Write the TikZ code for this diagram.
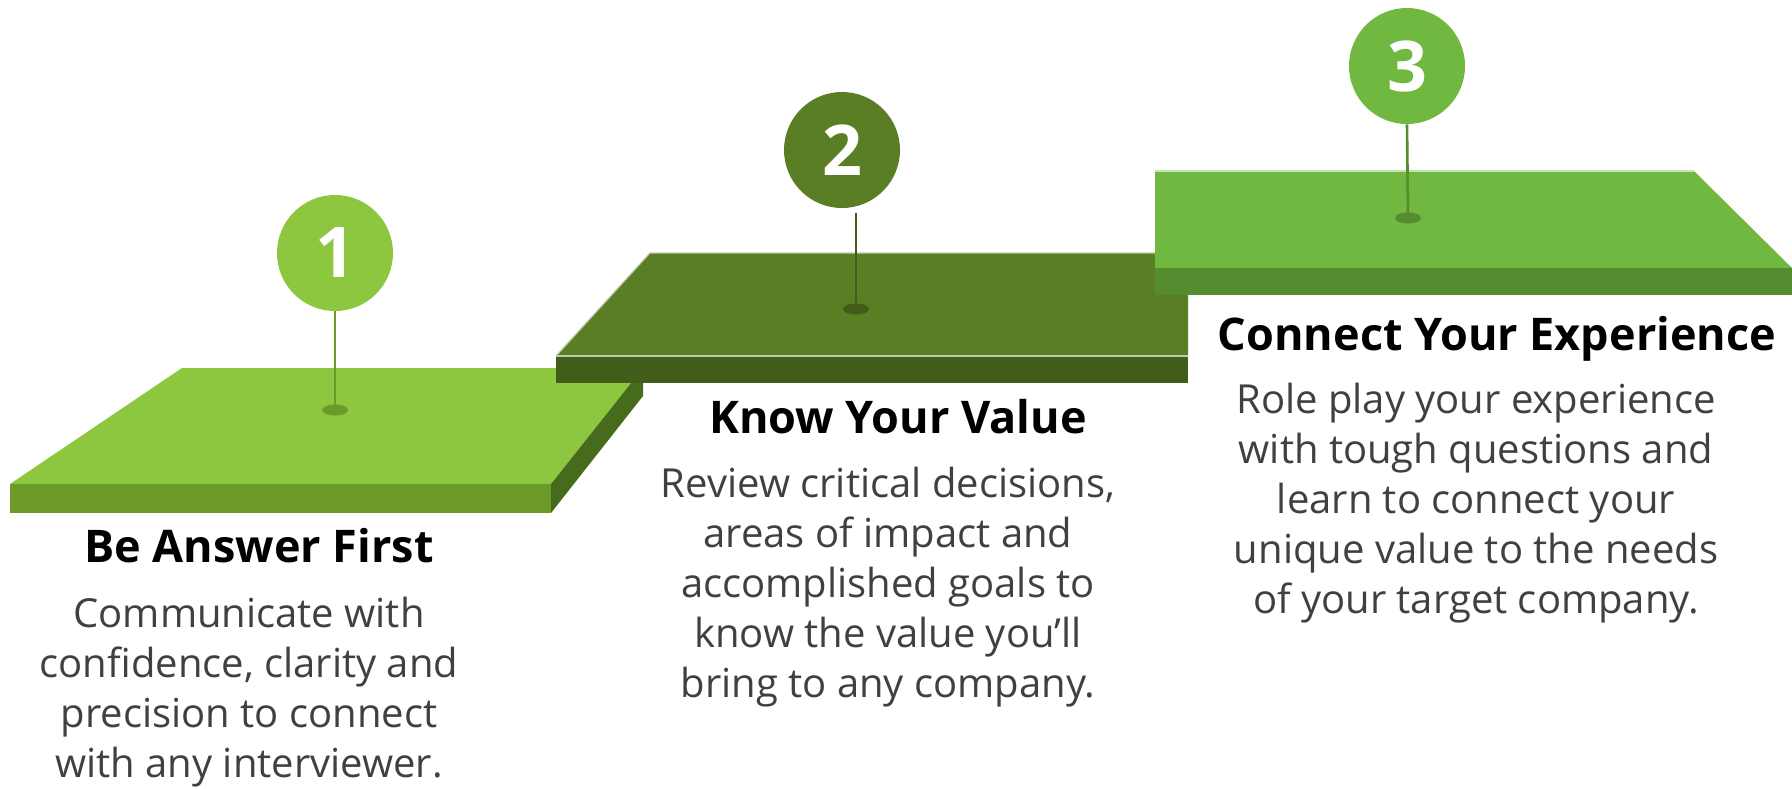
\documentclass[tikz,border=0pt]{standalone}
\usepackage{fontspec}
\setmainfont{Open Sans}
\usetikzlibrary{positioning, shapes.geometric}

\definecolor{limetop}{HTML}{8DC63F}
\definecolor{limefront}{HTML}{6B9A29}
\definecolor{limeside}{HTML}{476B1D}
\definecolor{olivetop}{HTML}{5A7E23}
\definecolor{olivefront}{HTML}{425C19}
\definecolor{greentop}{HTML}{70B83F}
\definecolor{greenfront}{HTML}{548C2F}
\definecolor{bodygray}{HTML}{404040}

\tikzset{
  pin/.style={circle, minimum size=58pt, inner sep=0pt, text=white,
    font=\fontsize{35}{40}\selectfont\bfseries},
  pindot/.style={ellipse, minimum width=13pt, minimum height=5.5pt, inner sep=0pt},
  steptitle/.style={anchor=base, font=\fontsize{22.5}{26}\selectfont\bfseries},
  % base anchor sits on the last line of the text
  stepbody/.style={anchor=base, align=center, text=bodygray,
    font=\fontsize{20}{25}\selectfont}
}

\begin{document}
\begin{tikzpicture}[x=0.5pt, y=-0.5pt]
  \useasboundingbox (0,0) rectangle (1792,788);

  % platform 1 (low step)
  \fill[limetop] (182,368) -- (643,368) -- (551,484) -- (10,484) -- cycle;
  \fill[limefront] (10,484) rectangle (551,513);
  \fill[limeside] (551,484) -- (643,368) -- (643,396) -- (551,513) -- cycle;

  % platform 2 (middle step)
  \fill[olivetop] (650,253) -- (1188,253) -- (1188,356) -- (556,356) -- cycle;
  \fill[olivefront] (556,356) rectangle (1188,383);
  \draw[white!60!olivetop, line width=0.6pt] (556,356) -- (650,253) -- (1188,253);
  \draw[white!60!olivetop, line width=0.6pt] (556,356) -- (1188,356);

  % platform 3 (top step)
  \fill[greentop] (1155,171) -- (1694,171) -- (1792,268) -- (1155,268) -- cycle;
  \fill[greenfront] (1155,268) rectangle (1792,295);
  \draw[white!60!greentop, line width=0.6pt] (1155,171) -- (1694,171);

  % pins
  \node[pin, fill=limetop] (pin1) at (335,253) {1};
  \node[pindot, fill=limefront] (dot1) at (335,410) {};
  \draw[limefront, line width=1.3pt] (pin1.south) -- (dot1.center);

  \node[pin, fill=olivetop] (pin2) at (842,150) {2};
  \node[pindot, fill=olivefront] (dot2) at (856,309) {};
  \coordinate (stem2) at (856,213);
  \draw[olivefront, line width=1.3pt] (stem2) -- (dot2.center);

  \node[pin, fill=greentop] (pin3) at (1407,66) {3};
  \node[pindot, fill=greenfront] (dot3) at (1408,218) {};
  \draw[greenfront, line width=1.3pt] (pin3.south) -- (dot3.center);

  % titles and texts
  \node[steptitle] (title1) at (259,562) {Be Answer First};
  \node[stepbody] (body1) at (249,777) {Communicate with\\confidence, clarity and\\precision to connect\\with any interviewer.};

  \node[steptitle] (title2) at (898,433) {Know Your Value};
  \node[stepbody] (body2) at (888,697) {Review critical decisions,\\areas of impact and\\accomplished goals to\\know the value you’ll\\bring to any company.};

  \node[steptitle] (title3) at (1497,350) {Connect Your Experience};
  \node[stepbody] (body3) at (1476,613) {Role play your experience\\with tough questions and\\learn to connect your\\unique value to the needs\\of your target company.};
\end{tikzpicture}
\end{document}
